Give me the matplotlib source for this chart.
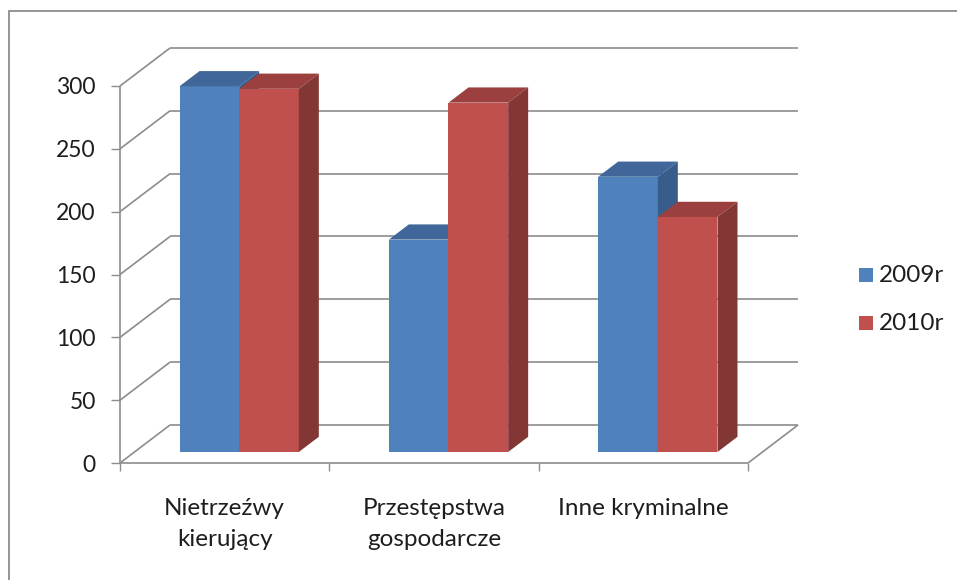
import matplotlib
matplotlib.use('Agg')
import matplotlib.pyplot as plt
from matplotlib.patches import Polygon, Rectangle

plt.rcParams['font.family'] = ['Lato', 'DejaVu Sans']

# data
categories = ['Nietrzeźwy\nkierujący', 'Przestępstwa\ngospodarcze', 'Inne kryminalne']
series_names = ['2009r', '2010r']
values_2009 = [291, 169, 219]
values_2010 = [289, 278, 187]
y_ticks = [0, 50, 100, 150, 200, 250, 300]

# colours: front, top, side
face_colors = {'2009r': ('#4F81BD', '#41679A', '#385D8A'),
               '2010r': ('#C0504D', '#9B403E', '#823735')}
grid_color = '#8C8C8C'
text_color = '#1E1E1E'

W, H = 957, 580
fig = plt.figure(figsize=(W / 100, H / 100), dpi=100)
ax = fig.add_axes([120 / W, (H - 463) / H, 628 / W, 377 / H])
ax.set_xlim(0, 3)
ax.set_ylim(0, 300)
for s in ax.spines.values():
    s.set_visible(False)

# oblique depth offset (data units for one full depth)
DX = 50 / (628 / 3)
DY = 38 / (377 / 300)


def line(xs, ys, **kw):
    ax.plot(xs, ys, color=grid_color, lw=1.2, clip_on=False,
            solid_capstyle='butt', **kw)


# back wall gridlines and left wall diagonals
for v in y_ticks:
    line([DX, 3 + DX], [v + DY, v + DY])
    line([0, DX], [v, v + DY])
# floor and front axes
line([0, 3], [0, 0])
line([3, 3 + DX], [0, DY])
line([0, 0], [0, 300])

# bars
bar_w = 0.285
d0, d1 = 0.29, 0.69
series_vals = [values_2009, values_2010]
for i in range(len(categories)):
    for j, name in enumerate(series_names):
        v = series_vals[j][i]
        front, top, side = face_colors[name]
        x0 = i + 0.215 + j * bar_w
        x1 = x0 + bar_w
        fx0, fx1, fy = x0 + d0 * DX, x1 + d0 * DX, d0 * DY
        bx0, bx1, by = x0 + d1 * DX, x1 + d1 * DX, d1 * DY
        ax.add_patch(Polygon([(fx0, fy), (fx1, fy), (fx1, v + fy), (fx0, v + fy)],
                             closed=True, fc=front, ec='none', clip_on=False, zorder=3))
        ax.add_patch(Polygon([(fx0, v + fy), (fx1, v + fy), (bx1, v + by), (bx0, v + by)],
                             closed=True, fc=top, ec='none', clip_on=False, zorder=3))
        ax.add_patch(Polygon([(fx1, fy), (bx1, by), (bx1, v + by), (fx1, v + fy)],
                             closed=True, fc=side, ec='none', clip_on=False, zorder=3))

# ticks
ax.set_yticks(y_ticks)
ax.tick_params(axis='y', direction='out', length=6.5, width=1.0, color=grid_color,
               pad=11, labelsize=16.5, labelcolor=text_color)
ax.set_xticks([0.5, 1.5, 2.5])
ax.set_xticklabels(categories, linespacing=1.6)
ax.set_xticks([0, 1, 2, 3], minor=True)
ax.tick_params(axis='x', which='major', length=0, pad=25, labelsize=17.5,
               labelcolor=text_color)
ax.tick_params(axis='x', which='minor', direction='out', length=6, width=1.0,
               color=grid_color)

# legend
for k, name in enumerate(series_names):
    yc = 275 + k * 48
    fig.patches.append(Rectangle((859 / W, (H - yc - 7) / H), 14 / W, 14 / H,
                                 transform=fig.transFigure, fc=face_colors[name][0],
                                 ec='none'))
    fig.text(879 / W, (H - yc) / H, name, fontsize=17.5, color=text_color,
             va='center', ha='left')

# chart border
fig.patches.append(Rectangle((9 / W, -0.05), 1.1, (H - 11) / H + 0.05,
                             transform=fig.transFigure, fill=False,
                             ec=grid_color, lw=1.3))

fig.savefig('out.png', dpi=100)
